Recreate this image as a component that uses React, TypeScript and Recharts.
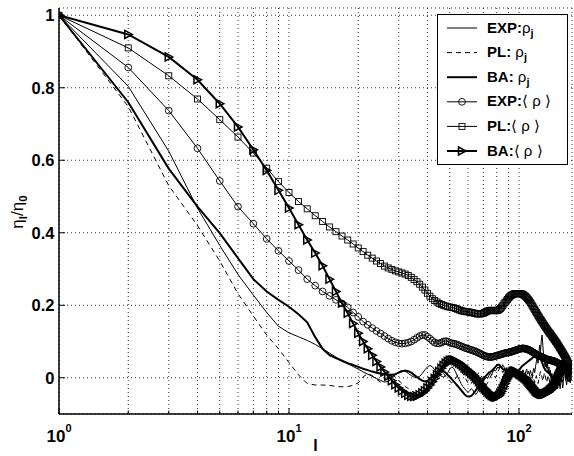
import React from 'react';
import { LineChart, Line, XAxis, YAxis, CartesianGrid, Legend } from 'recharts';

// Every array is indexed by rank: entry i belongs to l = i + 1 (l = 1 .. 168).

// EXP: rho_j
const expRho = [
  1, 0.804, 0.625, 0.468, 0.365, 0.285, 0.228, 0.18, 0.142, 0.124,
  0.113, 0.103, 0.092, 0.08, 0.068, 0.057, 0.047, 0.039, 0.031, 0.024,
  0.016, 0.01, 0.004, -0.002, -0.007, -0.012, -0.01, -0.002, 0.008, 0.016,
  0.02, 0.018, 0.012, 0.006, 0.002, 0.0, 0.004, 0.012, 0.022, 0.03,
  0.034, 0.03, 0.022, 0.014, 0.008, 0.004, 0.002, 0.006, 0.014, 0.024,
  0.03, 0.026, 0.016, 0.004, -0.006, -0.016, -0.024, -0.03, -0.036, -0.04,
  -0.036, -0.03, -0.034, -0.042, -0.046, -0.04, -0.032, -0.024, -0.018, -0.01,
  -0.004, 0.002, -0.002, 0.006, 0.012, 0.008, 0.016, 0.022, 0.018, 0.024,
  0.03, 0.026, 0.034, 0.028, 0.036, 0.03, 0.022, 0.028, 0.018, 0.024,
  0.014, 0.02, 0.008, 0.016, 0.01, 0.004, 0.012, 0.006, 0.014, 0.02,
  0.012, 0.018, 0.008, 0.022, 0.014, 0.006, 0.016, 0.024, 0.01, 0.018,
  0.008, 0.02, 0.012, 0.004, 0.016, 0.026, 0.014, 0.03, 0.044, 0.06,
  0.04, 0.066, 0.09, 0.072, 0.1, 0.118, 0.088, 0.06, 0.04, 0.03,
  0.05, 0.026, 0.04, 0.014, 0.03, 0.006, 0.02, -0.004, 0.012, -0.01,
  0.006, -0.016, 0.0, -0.02, -0.006, 0.01, 0.03, 0.014, -0.004, -0.02,
  -0.03, -0.012, 0.004, -0.016, -0.028, -0.01, 0.01, 0.026, 0.01, -0.006,
  -0.02, -0.008, 0.012, 0.03, 0.016, 0.0, -0.014, -0.004,
];

// PL: rho_j
const plRho = [
  1, 0.748, 0.53, 0.42, 0.322, 0.232, 0.17, 0.118, 0.08, 0.042,
  0.008, -0.016, -0.02, -0.02, -0.021, -0.024, -0.025, -0.024, -0.021, -0.014,
  0.002, 0.012, 0.006, -0.004, -0.012, -0.006, 0.004, 0.01, 0.002, -0.008,
  -0.016, -0.024, -0.03, -0.036, -0.04, -0.044, -0.048, -0.052, -0.046, -0.036,
  -0.024, -0.014, -0.004, 0.004, 0.01, 0.016, 0.012, 0.004, -0.004, -0.01,
  -0.014, -0.01, -0.002, 0.006, 0.012, 0.016, 0.012, 0.004, -0.006, -0.014,
  -0.02, -0.016, -0.008, -0.002, 0.004, 0.01, 0.014, 0.01, 0.002, -0.006,
  -0.014, -0.02, -0.014, -0.006, 0.002, 0.008, 0.012, 0.006, 0.0, 0.008,
  0.016, 0.024, 0.03, 0.022, 0.014, 0.02, 0.028, 0.018, 0.01, 0.016,
  0.022, 0.012, 0.004, 0.014, 0.02, 0.01, 0.0, 0.008, 0.016, 0.006,
  -0.004, 0.006, 0.014, 0.004, -0.006, 0.004, 0.012, 0.002, -0.008, 0.002,
  0.01, 0.0, -0.01, -0.002, 0.008, -0.004, -0.014, -0.004, 0.006, -0.006,
  -0.016, -0.004, 0.008, 0.018, 0.01, 0.0, -0.01, 0.002, 0.014, 0.006,
  -0.004, -0.014, -0.004, 0.008, -0.002, -0.012, -0.02, -0.008, 0.004, -0.006,
  -0.016, -0.026, -0.014, -0.002, -0.012, -0.022, -0.03, -0.018, -0.006, 0.006,
  0.016, 0.008, -0.002, -0.012, -0.004, 0.008, 0.018, 0.01, 0.0, -0.01,
  -0.002, 0.01, 0.02, 0.012, 0.002, -0.008, 0.002, 0.01,
];

// BA: rho_j
const baRho = [
  1, 0.76, 0.577, 0.472, 0.399, 0.33, 0.272, 0.238, 0.215, 0.196,
  0.175, 0.153, 0.112, 0.08, 0.062, 0.054, 0.047, 0.04, 0.035, 0.03,
  0.025, 0.021, 0.017, 0.014, 0.012, 0.01, 0.008, 0.008, 0.01, 0.014,
  0.018, 0.02, 0.018, 0.014, 0.008, 0.002, -0.004, -0.008, -0.01, -0.008,
  -0.004, 0.002, 0.008, 0.014, 0.018, 0.02, 0.018, 0.014, 0.008, 0.002,
  -0.004, -0.01, -0.016, -0.022, -0.028, -0.034, -0.04, -0.046, -0.05, -0.052,
  -0.052, -0.05, -0.046, -0.04, -0.034, -0.028, -0.022, -0.016, -0.01, -0.004,
  0.002, 0.006, 0.01, 0.014, 0.016, 0.018, 0.022, 0.026, 0.03, 0.034,
  0.036, 0.036, 0.032, 0.028, 0.024, 0.022, 0.02, 0.018, 0.016, 0.014,
  0.012, 0.01, 0.008, 0.008, 0.01, 0.012, 0.014, 0.016, 0.018, 0.02,
  0.024, 0.028, 0.032, 0.034, 0.036, 0.038, 0.04, 0.042, 0.044, 0.046,
  0.048, 0.05, 0.052, 0.054, 0.056, 0.058, 0.06, 0.064, 0.068, 0.072,
  0.07, 0.066, 0.06, 0.054, 0.048, 0.042, 0.036, 0.03, 0.026, 0.022,
  0.02, 0.018, 0.016, 0.014, 0.012, 0.01, 0.008, 0.004, 0.0, -0.004,
  -0.008, -0.01, -0.012, -0.012, -0.01, -0.008, -0.004, 0.0, 0.004, 0.008,
  0.012, 0.016, 0.02, 0.022, 0.024, 0.022, 0.018, 0.014, 0.01, 0.006,
  0.002, -0.002, -0.006, -0.008, -0.008, -0.006, -0.004, -0.002,
];

// EXP: <rho>
const expMean = [
  1, 0.856, 0.737, 0.633, 0.543, 0.472, 0.425, 0.383, 0.35, 0.322,
  0.297, 0.272, 0.254, 0.238, 0.226, 0.215, 0.205, 0.194, 0.18, 0.168,
  0.155, 0.146, 0.137, 0.129, 0.122, 0.115, 0.108, 0.102, 0.098, 0.095,
  0.094, 0.095, 0.097, 0.1, 0.105, 0.11, 0.115, 0.118, 0.118, 0.113,
  0.108, 0.102, 0.097, 0.095, 0.095, 0.097, 0.1, 0.101, 0.1, 0.097,
  0.095, 0.094, 0.093, 0.091, 0.089, 0.087, 0.085, 0.083, 0.081, 0.08,
  0.078, 0.077, 0.075, 0.074, 0.072, 0.07, 0.068, 0.066, 0.064, 0.062,
  0.06, 0.059, 0.058, 0.057, 0.057, 0.057, 0.058, 0.059, 0.06, 0.061,
  0.062, 0.063, 0.064, 0.065, 0.066, 0.067, 0.068, 0.069, 0.069, 0.07,
  0.07, 0.071, 0.072, 0.073, 0.074, 0.075, 0.076, 0.077, 0.078, 0.079,
  0.08, 0.08, 0.081, 0.081, 0.081, 0.08, 0.08, 0.079, 0.078, 0.077,
  0.076, 0.075, 0.073, 0.072, 0.07, 0.069, 0.067, 0.066, 0.064, 0.063,
  0.062, 0.061, 0.06, 0.059, 0.058, 0.057, 0.056, 0.055, 0.054, 0.053,
  0.052, 0.051, 0.05, 0.05, 0.049, 0.049, 0.048, 0.048, 0.047, 0.047,
  0.046, 0.046, 0.045, 0.044, 0.043, 0.042, 0.041, 0.04, 0.039, 0.038,
  0.037, 0.036, 0.035, 0.033, 0.031, 0.03, 0.028, 0.026, 0.025, 0.023,
  0.021, 0.019, 0.017, 0.015, 0.012, 0.01, 0.007, 0.004,
];

// PL: <rho>
const plMean = [
  1, 0.91, 0.833, 0.769, 0.712, 0.664, 0.62, 0.578, 0.541, 0.511,
  0.486, 0.466, 0.447, 0.431, 0.416, 0.403, 0.391, 0.38, 0.369, 0.358,
  0.348, 0.338, 0.33, 0.322, 0.315, 0.308, 0.303, 0.299, 0.295, 0.292,
  0.289, 0.286, 0.282, 0.277, 0.271, 0.265, 0.258, 0.25, 0.242, 0.233,
  0.225, 0.218, 0.213, 0.209, 0.205, 0.202, 0.2, 0.198, 0.196, 0.195,
  0.194, 0.193, 0.191, 0.189, 0.187, 0.185, 0.184, 0.183, 0.182, 0.182,
  0.181, 0.18, 0.179, 0.178, 0.177, 0.176, 0.176, 0.176, 0.177, 0.178,
  0.18, 0.182, 0.184, 0.185, 0.186, 0.186, 0.186, 0.185, 0.185, 0.185,
  0.186, 0.188, 0.191, 0.195, 0.199, 0.204, 0.208, 0.212, 0.216, 0.22,
  0.223, 0.226, 0.228, 0.23, 0.231, 0.232, 0.232, 0.232, 0.232, 0.232,
  0.232, 0.232, 0.231, 0.23, 0.228, 0.226, 0.224, 0.221, 0.218, 0.215,
  0.212, 0.208, 0.204, 0.2, 0.196, 0.192, 0.188, 0.184, 0.18, 0.176,
  0.172, 0.168, 0.165, 0.161, 0.158, 0.154, 0.151, 0.148, 0.144, 0.141,
  0.138, 0.135, 0.132, 0.129, 0.126, 0.123, 0.121, 0.118, 0.115, 0.112,
  0.11, 0.107, 0.104, 0.101, 0.099, 0.096, 0.093, 0.09, 0.087, 0.084,
  0.081, 0.078, 0.075, 0.072, 0.069, 0.066, 0.063, 0.06, 0.057, 0.054,
  0.051, 0.048, 0.044, 0.04, 0.036, 0.032, 0.027, 0.022,
];

// BA: <rho>
const baMean = [
  1, 0.947, 0.885, 0.822, 0.756, 0.692, 0.629, 0.572, 0.517, 0.468,
  0.422, 0.38, 0.344, 0.309, 0.272, 0.238, 0.206, 0.178, 0.15, 0.123,
  0.1, 0.08, 0.062, 0.045, 0.03, 0.016, 0.004, -0.008, -0.019, -0.028,
  -0.036, -0.043, -0.048, -0.051, -0.052, -0.051, -0.047, -0.042, -0.036, -0.028,
  -0.02, -0.011, -0.002, 0.008, 0.017, 0.026, 0.034, 0.04, 0.045, 0.048,
  0.049, 0.049, 0.047, 0.044, 0.041, 0.037, 0.033, 0.029, 0.025, 0.021,
  0.017, 0.013, 0.009, 0.005, 0.0, -0.004, -0.01, -0.016, -0.021, -0.026,
  -0.03, -0.034, -0.038, -0.042, -0.045, -0.048, -0.05, -0.052, -0.053, -0.053,
  -0.052, -0.049, -0.044, -0.038, -0.031, -0.024, -0.016, -0.009, -0.003, 0.003,
  0.008, 0.012, 0.015, 0.017, 0.018, 0.018, 0.017, 0.016, 0.014, 0.012,
  0.01, 0.008, 0.006, 0.004, 0.002, 0.0, -0.002, -0.005, -0.008, -0.011,
  -0.014, -0.017, -0.02, -0.023, -0.026, -0.029, -0.032, -0.035, -0.037, -0.039,
  -0.041, -0.042, -0.043, -0.044, -0.045, -0.045, -0.045, -0.045, -0.045, -0.044,
  -0.043, -0.042, -0.041, -0.04, -0.038, -0.036, -0.034, -0.032, -0.03, -0.028,
  -0.026, -0.022, -0.018, -0.014, -0.01, -0.006, -0.002, 0.002, 0.006, 0.01,
  0.014, 0.018, 0.021, 0.024, 0.027, 0.03, 0.032, 0.034, 0.035, 0.036,
  0.036, 0.035, 0.033, 0.03, 0.027, 0.023, 0.019, 0.015,
];

const xTicks = [1, 2, 3, 4, 5, 6, 7, 8, 9, 10, 20, 30, 40, 50, 60, 70, 80, 90, 100];
const xDecades = [1, 10, 100];
const yTicks = [0, 0.2, 0.4, 0.6, 0.8, 1];

const rows = expRho.map((v, i) => ({
  l: i + 1,
  expRho: v,
  plRho: plRho[i],
  baRho: baRho[i],
  expMean: expMean[i],
  plMean: plMean[i],
  baMean: baMean[i],
}));

type MarkerKind = 'circle' | 'square' | 'triangle' | null;

const series: { key: string; tag: string; mean: boolean; width: number; dash?: string; marker: MarkerKind }[] = [
  { key: 'expRho', tag: 'EXP:', mean: false, width: 1, marker: null },
  { key: 'plRho', tag: 'PL: ', mean: false, width: 1, dash: '5 4', marker: null },
  { key: 'baRho', tag: 'BA: ', mean: false, width: 2, marker: null },
  { key: 'expMean', tag: 'EXP:', mean: true, width: 1, marker: 'circle' },
  { key: 'plMean', tag: 'PL:', mean: true, width: 1, marker: 'square' },
  { key: 'baMean', tag: 'BA:', mean: true, width: 2, marker: 'triangle' },
];

const FONT = '"Liberation Sans", Arial, Helvetica, sans-serif';
const INK = '#000';

function Marker({ kind, cx, cy }: { kind: MarkerKind; cx: number; cy: number }) {
  if (kind === 'circle') {
    return <circle cx={cx} cy={cy} r={3.4} fill="none" stroke={INK} strokeWidth={0.9} />;
  }
  if (kind === 'square') {
    return <rect x={cx - 3} y={cy - 3} width={6} height={6} fill="none" stroke={INK} strokeWidth={0.9} />;
  }
  if (kind === 'triangle') {
    return (
      <path
        d={`M${cx - 3.5},${cy - 4} L${cx + 4},${cy} L${cx - 3.5},${cy + 4} Z`}
        fill="none"
        stroke={INK}
        strokeWidth={1.5}
        strokeLinejoin="miter"
      />
    );
  }
  return null;
}

// inward tick marks on the bottom axis, with 10^n labels at the decades
function BottomTick({ x, y, payload }: any) {
  const v = payload.value;
  const major = xDecades.includes(v);
  return (
    <g>
      <line x1={x} y1={y} x2={x} y2={y - (major ? 6 : 3.5)} stroke={INK} />
      {major && (
        <text x={x} y={y + 28} textAnchor="middle" fontFamily={FONT} fontWeight="bold" fontSize={17} fill={INK}>
          10
          <tspan dy={-10} fontSize={11}>
            {Math.round(Math.log10(v))}
          </tspan>
        </text>
      )}
    </g>
  );
}

function TopTick({ x, y, payload }: any) {
  const major = xDecades.includes(payload.value);
  return <line x1={x} y1={y} x2={x} y2={y + (major ? 6 : 3.5)} stroke={INK} />;
}

function LeftTick({ x, y, payload }: any) {
  return (
    <g>
      <line x1={x} y1={y} x2={x + 6} y2={y} stroke={INK} />
      <text x={x - 4.5} y={y + 5.8} textAnchor="end" fontFamily={FONT} fontWeight="bold" fontSize={16.5} fill={INK}>
        {payload.value}
      </text>
    </g>
  );
}

function RightTick({ x, y }: any) {
  return <line x1={x} y1={y} x2={x - 6} y2={y} stroke={INK} />;
}

function YTitle() {
  return (
    <text transform="translate(23,212) rotate(-90)" textAnchor="middle" fontFamily={FONT} fontSize={17} fill={INK}>
      η
      <tspan dy={4} fontSize={11.5} fontWeight="bold">l</tspan>
      <tspan dy={-4}>/η</tspan>
      <tspan dy={4} fontSize={11.5} fontWeight="bold">0</tspan>
    </text>
  );
}

function LegendBox() {
  return (
    <svg width={131} height={151} style={{ display: 'block' }}>
      <rect x={0.5} y={0.5} width={130} height={150} fill="#fff" stroke={INK} strokeWidth={1} />
      {series.map((s, i) => {
        const cy = 14 + i * 24.6;
        return (
          <g key={s.key}>
            <line x1={10} y1={cy} x2={40} y2={cy} stroke={INK} strokeWidth={s.width} strokeDasharray={s.dash} />
            <Marker kind={s.marker} cx={25} cy={cy} />
            <text x={50} y={cy + 4.5} fontFamily={FONT} fontSize={15} fill={INK} style={{ whiteSpace: 'pre' }}>
              <tspan fontWeight="bold">{s.tag}</tspan>
              {s.mean ? (
                <tspan>⟨ ρ ⟩</tspan>
              ) : (
                <>
                  <tspan>ρ</tspan>
                  <tspan dy={4} fontSize={11} fontWeight="bold">j</tspan>
                </>
              )}
            </text>
          </g>
        );
      })}
    </svg>
  );
}

export default function App() {
  return (
    <div style={{ position: 'absolute', left: 0, top: 0, width: 574, height: 456, background: '#fff' }}>
      <LineChart width={574} height={456} data={rows} margin={{ top: 8, right: 2, bottom: 0, left: 0 }}>
        <CartesianGrid stroke="#333" strokeDasharray="1 3" strokeWidth={1} />
        <XAxis
          dataKey="l"
          type="number"
          scale="log"
          domain={[1, 170]}
          allowDataOverflow
          ticks={xTicks}
          interval={0}
          height={42}
          tickSize={0}
          tickMargin={0}
          tickLine={false}
          tick={<BottomTick />}
          axisLine={{ stroke: INK, strokeWidth: 1.5 }}
          label={{ value: 'l', position: 'insideBottom', offset: 5, fontFamily: FONT, fontWeight: 'bold', fontSize: 16, fill: INK }}
        />
        <XAxis
          xAxisId="top"
          orientation="top"
          dataKey="l"
          type="number"
          scale="log"
          domain={[1, 170]}
          allowDataOverflow
          ticks={xTicks}
          interval={0}
          height={0}
          tickSize={0}
          tickMargin={0}
          tickLine={false}
          tick={<TopTick />}
          axisLine={{ stroke: INK, strokeWidth: 1.5 }}
        />
        <YAxis
          type="number"
          domain={[-0.1, 1.02]}
          allowDataOverflow
          ticks={yTicks}
          interval={0}
          width={59}
          tickSize={0}
          tickMargin={0}
          tickLine={false}
          tick={<LeftTick />}
          axisLine={{ stroke: INK, strokeWidth: 1.5 }}
          label={<YTitle />}
        />
        <YAxis
          yAxisId="right"
          orientation="right"
          type="number"
          domain={[-0.1, 1.02]}
          allowDataOverflow
          ticks={yTicks}
          interval={0}
          width={0}
          tickSize={0}
          tickMargin={0}
          tickLine={false}
          tick={<RightTick />}
          axisLine={{ stroke: INK, strokeWidth: 1.5 }}
        />
        {series.map((s) => (
          <Line
            key={s.key}
            dataKey={s.key}
            type="linear"
            stroke={INK}
            strokeWidth={s.width}
            strokeDasharray={s.dash}
            isAnimationActive={false}
            dot={
              s.marker
                ? (p: any) => <Marker key={`${s.key}-${p.index}`} kind={s.marker} cx={p.cx} cy={p.cy} />
                : false
            }
            activeDot={false}
          />
        ))}
        <Legend
          layout="vertical"
          align="center"
          verticalAlign="middle"
          wrapperStyle={{ left: 437, top: 14, width: 131, height: 151 }}
          content={() => <LegendBox />}
        />
      </LineChart>
    </div>
  );
}
